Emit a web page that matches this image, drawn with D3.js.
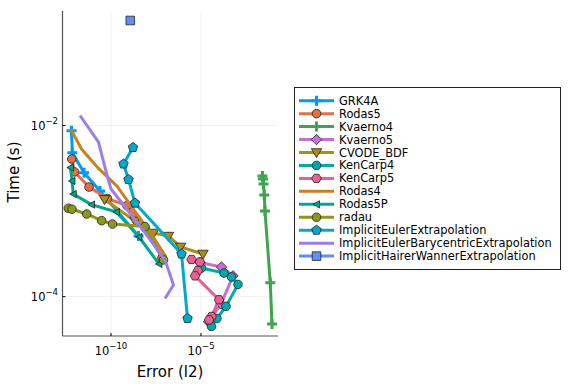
<!DOCTYPE html>
<html><head><meta charset="utf-8">
<script src="https://cdn.jsdelivr.net/npm/d3@7"></script>
<style>body{margin:0;background:#fff}svg{display:block}text{font-family:"DejaVu Sans",sans-serif}</style>
</head><body><svg id="c" width="576" height="384"></svg>
<script>
const seriesNames = ["GRK4A","Rodas5","Kvaerno4","Kvaerno5","CVODE_BDF","KenCarp4","KenCarp5","Rodas4","Rodas5P","radau","ImplicitEulerExtrapolation","ImplicitEulerBarycentricExtrapolation","ImplicitHairerWannerExtrapolation"];
const seriesColors = ["#009AFA","#E36F47","#3EA44E","#C371D2","#AC8E18","#00A9AD","#ED5E93","#C68225","#00A98D","#8E971D","#00A9CD","#9B7FE9","#618DF6"];
const seriesMarkers = ["cross","circle","cross","diamond","dtriangle","circle","hexagon","none","ltriangle","circle","pentagon","none","rect"];
// [error, time] pairs
const GRK4A = [[6.4e-13,8.7e-3],[7.1e-13,4.8e-3],[3.2e-12,2.8e-3],[2.45e-11,1.72e-3],[3.4e-9,5.1e-4]];
const Rodas5 = [[6.6e-13,4.06e-3],[9.4e-13,2.87e-3],[6.0e-12,1.91e-3],[6.4e-11,1.40e-3],[7.7e-10,1.16e-3],[7.7e-9,6.4e-4],[6.8e-8,2.83e-4]];
const Kvaerno4 = [[2.61e-2,2.57e-3],[2.78e-2,2.37e-3],[2.97e-2,2.07e-3],[3.29e-2,1.54e-3],[3.59e-2,1.0e-3],[7.08e-2,1.45e-4],[8.8e-2,4.8e-5]];
const Kvaerno5 = [[8.8e-6,2.51e-4],[1.38e-4,2.22e-4],[6.0e-4,1.75e-4],[1.29e-4,8.2e-5],[2.61e-5,5.1e-5]];
const CVODE_BDF = [[4.36e-11,1.37e-3],[2.15e-9,7.66e-4],[2.3e-8,5.55e-4],[1.56e-7,5.1e-4],[7.3e-7,3.81e-4],[1.29e-5,3.15e-4]];
const KenCarp4 = [[1.07e-5,2.16e-4],[1.90e-4,1.89e-4],[4.95e-4,1.70e-4],[1.14e-3,1.39e-4],[2.45e-4,7.7e-5],[7.7e-5,5.56e-5],[3.83e-5,4.49e-5]];
const KenCarp5 = [[2.97e-6,2.72e-4],[8.8e-6,2.54e-4],[6.8e-6,2.02e-4],[4.64e-6,1.75e-4],[1.0e-4,9.2e-5],[3.9e-5,5.87e-5],[2.8e-5,5.35e-5]];
const Rodas4 = [[6.0e-13,8.98e-3],[2.3e-12,5.31e-3],[2.02e-11,3.15e-3],[2.15e-10,1.96e-3],[1.9e-9,1.03e-3],[1.47e-8,5.7e-4],[1.14e-7,2.91e-4]];
const Rodas5P = [[5.6e-13,3.23e-3],[6.8e-13,2.25e-3],[8.05e-13,1.58e-3],[8.3e-12,1.19e-3],[2.02e-10,9.75e-4],[3.6e-9,4.98e-4],[4.64e-8,2.41e-4]];
const radau = [[4.25e-13,1.08e-3],[6.8e-13,1.05e-3],[4.47e-12,9.25e-4],[3.04e-11,7.73e-4],[1.21e-10,7.06e-4],[7.7e-9,6.6e-4],[8.3e-8,2.69e-4]];
const ImplicitEulerExtrapolation = [[1.67e-9,5.53e-3],[4.95e-10,3.55e-3],[9.4e-10,2.34e-3],[2.15e-9,1.24e-3],[8.3e-7,3.15e-4],[1.78e-6,5.56e-5]];
const ImplicitEulerBarycentricExtrapolation = [[1.9e-12,1.31e-2],[2.02e-11,6.4e-3],[6.0e-11,2.64e-3],[1.0e-10,1.81e-3],[4.95e-9,6.35e-4],[1.0e-7,2.69e-4],[2.97e-7,1.37e-4],[1.0e-7,9.5e-5]];
const ImplicitHairerWannerExtrapolation = [[1.18e-9,0.169]];
const seriesData = [GRK4A,Rodas5,Kvaerno4,Kvaerno5,CVODE_BDF,KenCarp4,KenCarp5,Rodas4,Rodas5P,radau,ImplicitEulerExtrapolation,ImplicitEulerBarycentricExtrapolation,ImplicitHairerWannerExtrapolation];
const xTicks = [1e-10,1e-5];
const xTickExp = ["−10","−5"];
const yTicks = [1e-2,1e-4];
const yTickExp = ["−2","−4"];

const svg = d3.select("#c");
const L=62.5,R=278,T=11,B=336;
const x = d3.scaleLog().domain([2.02e-13,0.19]).range([L,R]);
const y = d3.scaleLog().domain([3.47e-5,0.218]).range([B,T]);

const g = svg.append("g");
xTicks.forEach(t=>g.append("line").attr("x1",x(t)).attr("x2",x(t)).attr("y1",T).attr("y2",B).attr("stroke","#000").attr("stroke-opacity",0.1).attr("stroke-width",0.6));
yTicks.forEach(t=>g.append("line").attr("y1",y(t)).attr("y2",y(t)).attr("x1",L).attr("x2",R).attr("stroke","#000").attr("stroke-opacity",0.1).attr("stroke-width",0.6));
g.append("line").attr("x1",L).attr("x2",L).attr("y1",T).attr("y2",B).attr("stroke","#555").attr("stroke-width",1.2);
g.append("line").attr("x1",L).attr("x2",R).attr("y1",B).attr("y2",B).attr("stroke","#555").attr("stroke-width",1.2);
xTicks.forEach((t,i)=>{
  g.append("line").attr("x1",x(t)).attr("x2",x(t)).attr("y1",B).attr("y2",B-3).attr("stroke","#000").attr("stroke-width",1);
  const tx=g.append("text").attr("x",x(t)).attr("y",355).attr("text-anchor","middle").attr("font-size",11.5).attr("fill","#000");
  tx.append("tspan").text("10");
  tx.append("tspan").attr("dy",-6).attr("font-size",8.5).text(xTickExp[i]);
});
yTicks.forEach((t,i)=>{
  g.append("line").attr("x1",L).attr("x2",L+3).attr("y1",y(t)).attr("y2",y(t)).attr("stroke","#000").attr("stroke-width",1);
  const tx=g.append("text").attr("x",58).attr("y",y(t)+4).attr("text-anchor","end").attr("font-size",11.5).attr("fill","#000");
  tx.append("tspan").text("10");
  tx.append("tspan").attr("dy",-6).attr("font-size",8.5).text(yTickExp[i]);
});
svg.append("text").attr("x",170).attr("y",377).attr("text-anchor","middle").attr("font-size",15).text("Error (l2)");
svg.append("text").attr("transform","translate(19,172) rotate(-90)").attr("text-anchor","middle").attr("font-size",15).text("Time (s)");

function poly(n,r,rot){const p=[];for(let k=0;k<n;k++){const a=rot+2*Math.PI*k/n;p.push([r*Math.cos(a),r*Math.sin(a)]);}return p;}
function marker(sel,shape,cx,cy,color){
  if(shape==="none")return;
  let pts=null;
  if(shape==="circle"){sel.append("circle").attr("cx",cx).attr("cy",cy).attr("r",4.3).attr("fill",color).attr("stroke","#222").attr("stroke-width",0.8);return;}
  if(shape==="cross"){const a=5,b=1.5;pts=[[-b,-a],[b,-a],[b,-b],[a,-b],[a,b],[b,b],[b,a],[-b,a],[-b,b],[-a,b],[-a,-b],[-b,-b]];
    sel.append("polygon").attr("points",pts.map(p=>[p[0]+cx,p[1]+cy].join(",")).join(" ")).attr("fill",color);return;}
  if(shape==="diamond")pts=[[0,-5.2],[5.2,0],[0,5.2],[-5.2,0]];
  if(shape==="dtriangle")pts=[[-5.2,-3.8],[5.2,-3.8],[0,5.2]];
  if(shape==="ltriangle")pts=[[-3.6,0],[3,-3.6],[3,3.6]];
  if(shape==="hexagon")pts=poly(6,4.8,0);
  if(shape==="pentagon")pts=poly(5,5,-Math.PI/2);
  if(shape==="rect")pts=[[-4.3,-4.3],[4.3,-4.3],[4.3,4.3],[-4.3,4.3]];
  sel.append("polygon").attr("points",pts.map(p=>[p[0]+cx,p[1]+cy].join(",")).join(" ")).attr("fill",color).attr("stroke","#222").attr("stroke-width",0.8);
}

const line = d3.line().x(d=>x(d[0])).y(d=>y(d[1]));
const plot = svg.append("g");
seriesData.forEach((data,i)=>{
  const sg=plot.append("g");
  sg.append("path").attr("d",line(data)).attr("fill","none").attr("stroke",seriesColors[i]).attr("stroke-width",3).attr("stroke-linejoin","round");
  data.forEach(d=>marker(sg,seriesMarkers[i],x(d[0]),y(d[1]),seriesColors[i]));
});

const lg = svg.append("g");
lg.append("rect").attr("x",294.5).attr("y",87.5).attr("width",266).attr("height",182).attr("fill","#fff").attr("stroke","#222").attr("stroke-width",1);
seriesNames.forEach((n,i)=>{
  const yy=100.7+i*12.95;
  lg.append("line").attr("x1",299).attr("x2",334).attr("y1",yy).attr("y2",yy).attr("stroke",seriesColors[i]).attr("stroke-width",3);
  marker(lg,seriesMarkers[i],316.5,yy,seriesColors[i]);
  lg.append("text").attr("x",339).attr("y",yy+4).attr("font-size",11.4).text(n);
});
</script></body></html>
